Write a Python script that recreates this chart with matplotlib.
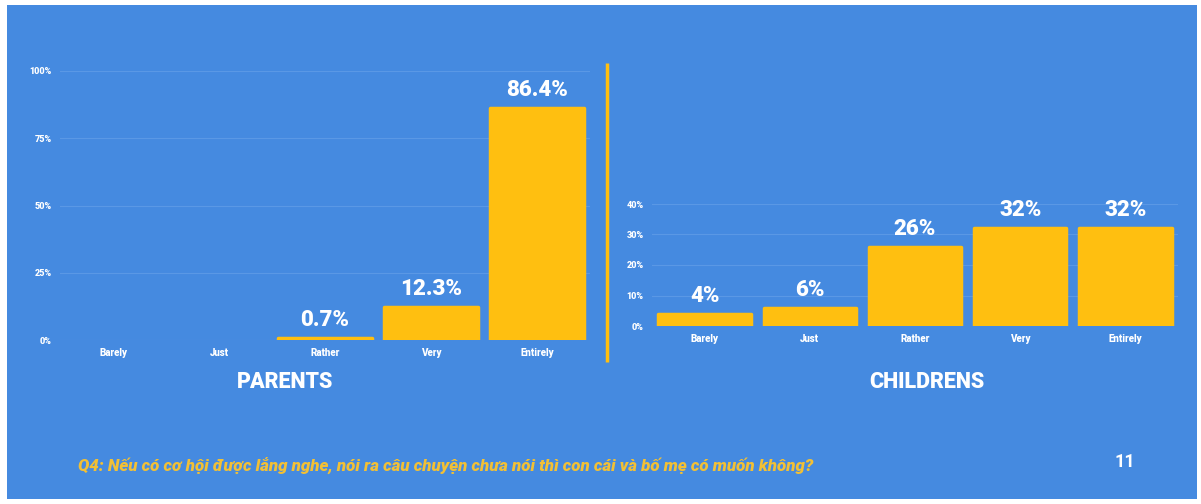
import numpy as np
import matplotlib.pyplot as plt
from matplotlib.patches import Rectangle
from matplotlib.lines import Line2D

# survey answers, share of respondents (%)
categories = ['Barely', 'Just', 'Rather', 'Very', 'Entirely']
parents_pct = [0.0, 0.0, 0.7, 12.3, 86.4]
parents_labels = ['', '', '0.7%', '12.3%', '86.4%']
children_pct = [4, 6, 26, 32, 32]
children_labels = ['4%', '6%', '26%', '32%', '32%']
parents_ticks = [0, 25, 50, 75, 100]
children_ticks = [0, 10, 20, 30, 40]
question = 'Q4: Nếu có cơ hội được lắng nghe, nói ra câu chuyện chưa nói thì con cái và bố mẹ có muốn không?'
page_no = '11'

bg = '#458ae0'
bar_color = '#ffbf10'
grid_color = '#5a98e5'
W, H = 1201, 504

plt.rcParams['font.family'] = ['Roboto', 'DejaVu Sans']

fig = plt.figure(figsize=(W / 100, H / 100), dpi=100, facecolor='white')
# blue slide background with thin white margin
fig.patches.append(Rectangle((7 / W, 5 / H), 1190 / W, 494 / H, transform=fig.transFigure,
                             facecolor=bg, edgecolor='none', zorder=-5))


def px_axes(left, top, right, bottom):
    return fig.add_axes([left / W, 1 - bottom / H, (right - left) / W, (bottom - top) / H])


def draw_panel(ax, values, labels, ticks):
    x = np.arange(len(categories))
    ax.set_facecolor('none')
    # rounded edge only where there is a bar to show
    lw = [2.5 if v > 0 else 0 for v in values]
    bars = ax.bar(x, values, width=0.88, color=bar_color, edgecolor=bar_color,
                  linewidth=lw, joinstyle='round', zorder=3)
    for b, lab in zip(bars, labels):
        if lab:
            ax.annotate(lab, (b.get_x() + b.get_width() / 2, b.get_height()),
                        xytext=(0, 5), textcoords='offset points', ha='center', va='bottom',
                        color='white', fontsize=16, fontweight='heavy', annotation_clip=False)
    ax.set_xlim(-0.5, len(categories) - 0.5)
    ax.set_ylim(0, ticks[-1])
    ax.set_yticks(ticks)
    ax.set_yticklabels([f'{t}%' for t in ticks], fontsize=6.5, fontweight='heavy', color='white')
    ax.set_xticks(x)
    ax.set_xticklabels(categories, fontsize=7, fontweight='heavy', color='white')
    ax.tick_params(length=0, pad=6)
    for t in ticks:
        ax.axhline(t, color=grid_color, linewidth=0.8, zorder=1)
    for s in ax.spines.values():
        s.set_visible(False)


ax1 = px_axes(60, 71, 590, 340)
draw_panel(ax1, parents_pct, parents_labels, parents_ticks)

ax2 = px_axes(652, 204, 1178, 326)
draw_panel(ax2, children_pct, children_labels, children_ticks)

fig.text(285 / W, 1 - 382 / H, 'PARENTS', ha='center', va='center', color='white',
         fontsize=15.5, fontweight='heavy')
fig.text(927 / W, 1 - 382 / H, 'CHILDRENS', ha='center', va='center', color='white',
         fontsize=15.5, fontweight='heavy')

# divider between the two panels
fig.add_artist(Line2D([607 / W, 607 / W], [1 - 63 / H, 1 - 362 / H], transform=fig.transFigure,
                      color=bar_color, linewidth=2.5, solid_capstyle='butt'))

fig.text(78 / W, 1 - 465 / H, question, color='#f2c035', fontsize=12.2, fontweight='heavy',
         fontstyle='italic', va='center', ha='left')
fig.text(1125 / W, 1 - 462 / H, page_no, color='white', fontsize=13, fontweight='bold',
         va='center', ha='center')

fig.savefig('out.png', dpi=100, facecolor='white')
